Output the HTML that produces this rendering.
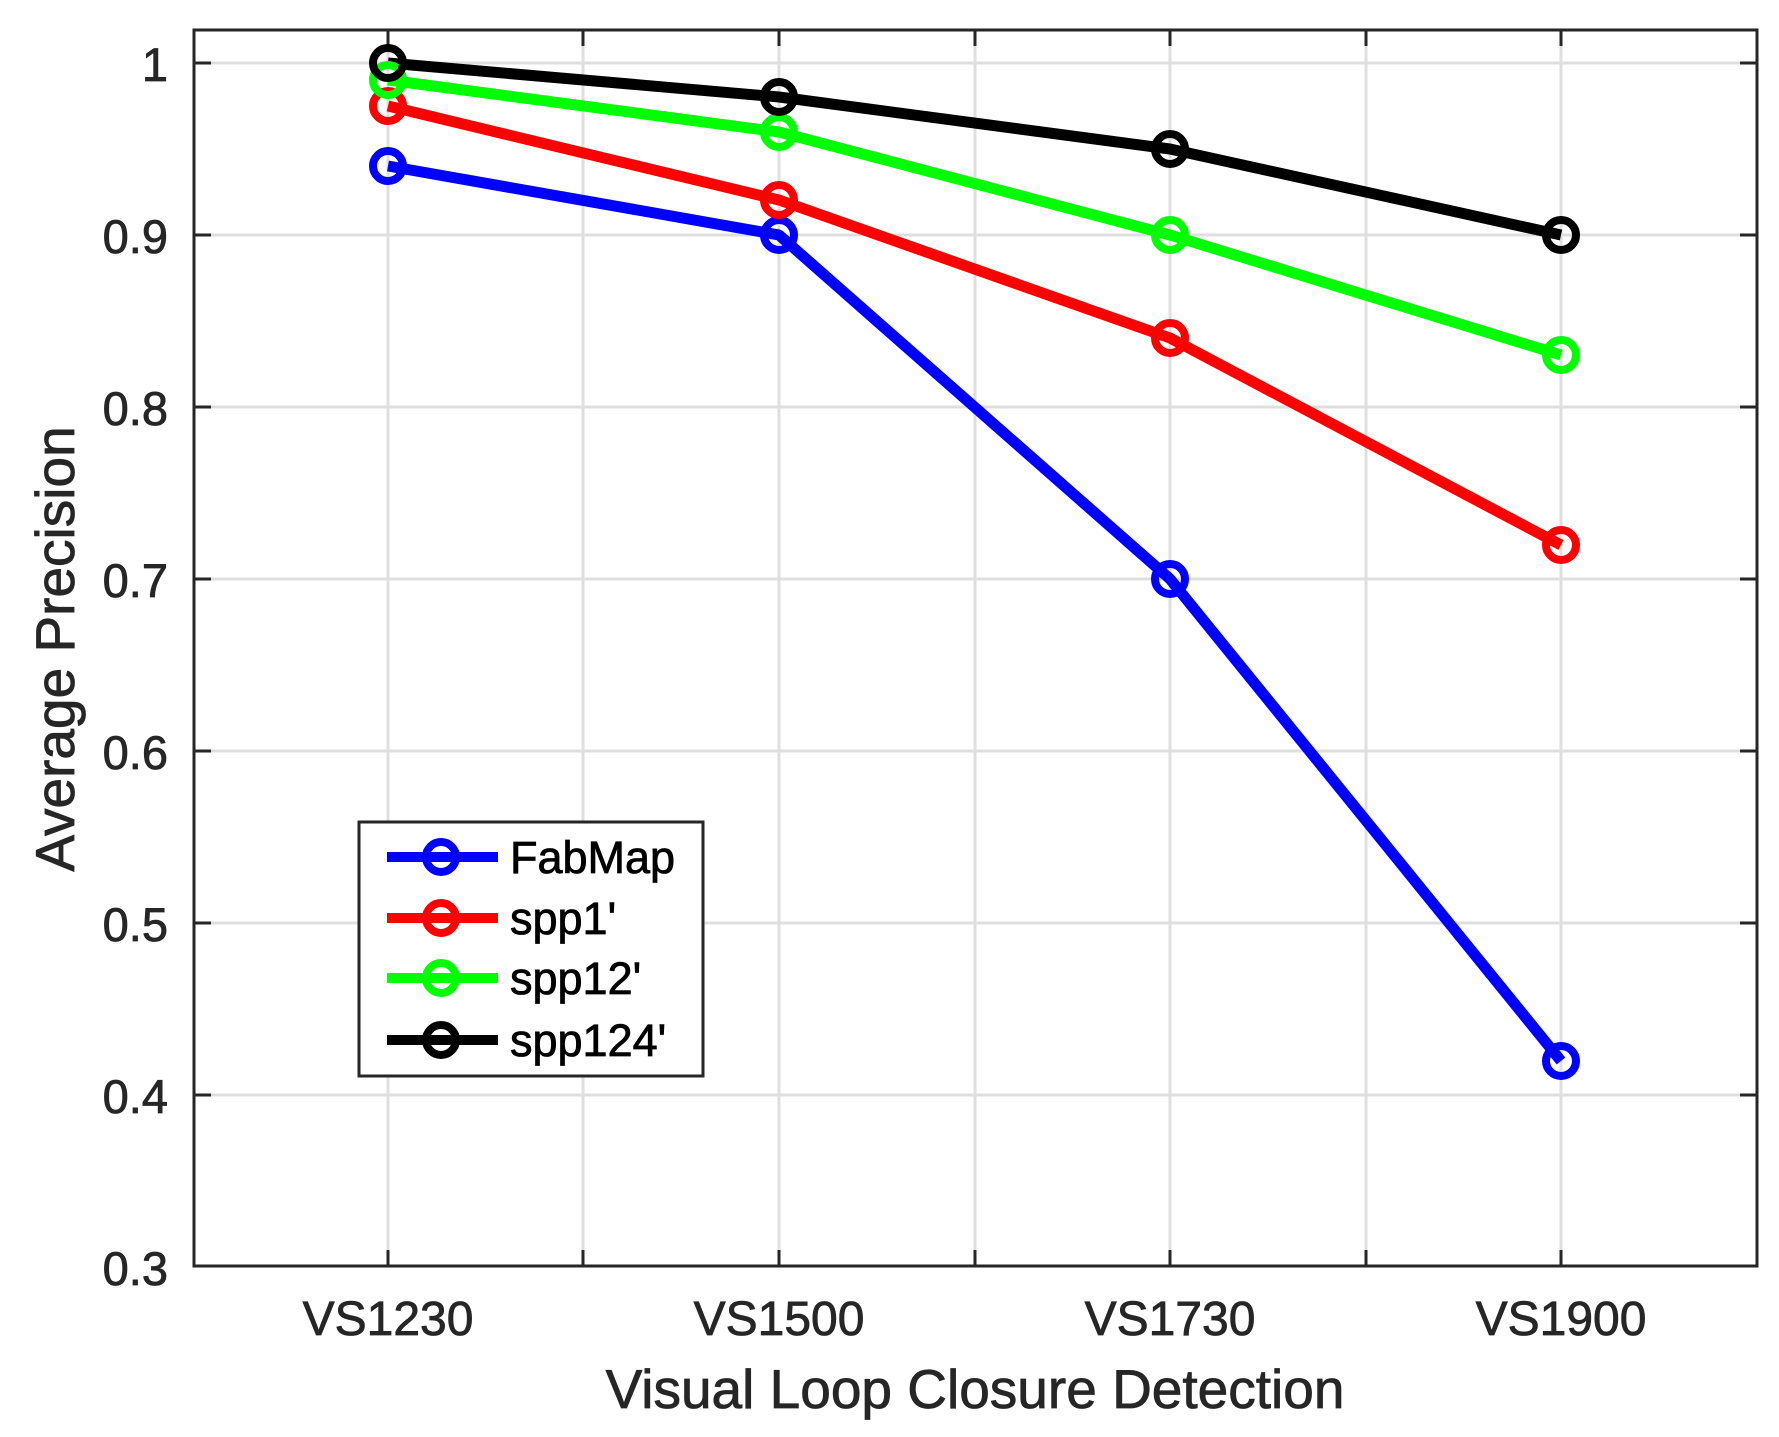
<!DOCTYPE html>
<html><head><style>body{margin:0;background:#fff}svg{display:block}</style></head><body>
<svg width="1779" height="1437" viewBox="0 0 1779 1437" xmlns="http://www.w3.org/2000/svg" font-family="Liberation Sans, Arial, sans-serif">
<rect width="1779" height="1437" fill="#fff"/>
<g stroke="#dfdfdf" stroke-width="3">
<line x1="388" y1="30" x2="388" y2="1266"/><line x1="583" y1="30" x2="583" y2="1266"/><line x1="779" y1="30" x2="779" y2="1266"/><line x1="975" y1="30" x2="975" y2="1266"/><line x1="1170" y1="30" x2="1170" y2="1266"/><line x1="1366" y1="30" x2="1366" y2="1266"/><line x1="1561" y1="30" x2="1561" y2="1266"/>
<line x1="194" y1="63" x2="1757" y2="63"/><line x1="194" y1="235" x2="1757" y2="235"/><line x1="194" y1="407" x2="1757" y2="407"/><line x1="194" y1="579" x2="1757" y2="579"/><line x1="194" y1="751" x2="1757" y2="751"/><line x1="194" y1="923" x2="1757" y2="923"/><line x1="194" y1="1095" x2="1757" y2="1095"/>
</g>
<g stroke="#262626" stroke-width="3">
<line x1="388" y1="30" x2="388" y2="46"/><line x1="583" y1="30" x2="583" y2="46"/><line x1="779" y1="30" x2="779" y2="46"/><line x1="975" y1="30" x2="975" y2="46"/><line x1="1170" y1="30" x2="1170" y2="46"/><line x1="1366" y1="30" x2="1366" y2="46"/><line x1="1561" y1="30" x2="1561" y2="46"/>
<line x1="388" y1="1250" x2="388" y2="1266"/><line x1="583" y1="1250" x2="583" y2="1266"/><line x1="779" y1="1250" x2="779" y2="1266"/><line x1="975" y1="1250" x2="975" y2="1266"/><line x1="1170" y1="1250" x2="1170" y2="1266"/><line x1="1366" y1="1250" x2="1366" y2="1266"/><line x1="1561" y1="1250" x2="1561" y2="1266"/>
<line x1="194" y1="63" x2="211" y2="63"/><line x1="194" y1="235" x2="211" y2="235"/><line x1="194" y1="407" x2="211" y2="407"/><line x1="194" y1="579" x2="211" y2="579"/><line x1="194" y1="751" x2="211" y2="751"/><line x1="194" y1="923" x2="211" y2="923"/><line x1="194" y1="1095" x2="211" y2="1095"/>
<line x1="1740" y1="63" x2="1757" y2="63"/><line x1="1740" y1="235" x2="1757" y2="235"/><line x1="1740" y1="407" x2="1757" y2="407"/><line x1="1740" y1="579" x2="1757" y2="579"/><line x1="1740" y1="751" x2="1757" y2="751"/><line x1="1740" y1="923" x2="1757" y2="923"/><line x1="1740" y1="1095" x2="1757" y2="1095"/>
<rect x="194" y="30" width="1563" height="1236" fill="none"/>
</g>
<g fill="#262626" font-size="47" text-anchor="end" stroke="#262626" stroke-width="0.8">
<text x="168" y="81">1</text><text x="168" y="253">0.9</text><text x="168" y="425">0.8</text><text x="168" y="597">0.7</text><text x="168" y="769">0.6</text><text x="168" y="941">0.5</text><text x="168" y="1113">0.4</text><text x="168" y="1285">0.3</text>
</g>
<g fill="#262626" font-size="48" text-anchor="middle" stroke="#262626" stroke-width="0.8">
<text x="388" y="1335">VS1230</text><text x="779" y="1335">VS1500</text><text x="1170" y="1335">VS1730</text><text x="1561" y="1335">VS1900</text>
<text x="975" y="1408" font-size="55">Visual Loop Closure Detection</text>
<text transform="translate(74,649) rotate(-90)" font-size="55">Average Precision</text>
</g>
<g fill="none" stroke-width="11" stroke-linejoin="round">
<g stroke="#0000ff"><polyline points="388,166 779,235 1170,579 1561,1061"/></g>
<g stroke="#ff0000"><polyline points="388,106 779,200 1170,338 1561,545"/></g>
<g stroke="#00ff00"><polyline points="388,80 779,132 1170,235 1561,355"/></g>
<g stroke="#000000"><polyline points="388,63 779,97 1170,149 1561,235"/></g>
</g>
<g fill="none" stroke-width="8">
<g stroke="#0000ff"><circle cx="388" cy="166" r="15"/><circle cx="779" cy="235" r="15"/><circle cx="1170" cy="579" r="15"/><circle cx="1561" cy="1061" r="15"/></g>
<g stroke="#ff0000"><circle cx="388" cy="106" r="15"/><circle cx="779" cy="200" r="15"/><circle cx="1170" cy="338" r="15"/><circle cx="1561" cy="545" r="15"/></g>
<g stroke="#00ff00"><circle cx="388" cy="80" r="15"/><circle cx="779" cy="132" r="15"/><circle cx="1170" cy="235" r="15"/><circle cx="1561" cy="355" r="15"/></g>
<g stroke="#000000"><circle cx="388" cy="63" r="15"/><circle cx="779" cy="97" r="15"/><circle cx="1170" cy="149" r="15"/><circle cx="1561" cy="235" r="15"/></g>
</g>
<rect x="359" y="822" width="344" height="254" fill="#fff" stroke="#262626" stroke-width="3"/>
<g stroke-width="10">
<line x1="387" y1="857" x2="498" y2="857" stroke="#0000ff"/>
<line x1="387" y1="918" x2="498" y2="918" stroke="#ff0000"/>
<line x1="387" y1="978" x2="498" y2="978" stroke="#00ff00"/>
<line x1="387" y1="1040" x2="498" y2="1040" stroke="#000"/>
</g>
<g fill="none" stroke-width="8">
<circle cx="441" cy="857" r="15" stroke="#0000ff"/><circle cx="441" cy="918" r="15" stroke="#ff0000"/><circle cx="441" cy="978" r="15" stroke="#00ff00"/><circle cx="441" cy="1040" r="15" stroke="#000"/>
</g>
<g fill="#000" font-size="45" stroke="#000" stroke-width="0.8">
<text x="510" y="873">FabMap</text><text x="510" y="934">spp1'</text><text x="510" y="994">spp12'</text><text x="510" y="1056">spp124'</text>
</g>
</svg>
</body></html>
